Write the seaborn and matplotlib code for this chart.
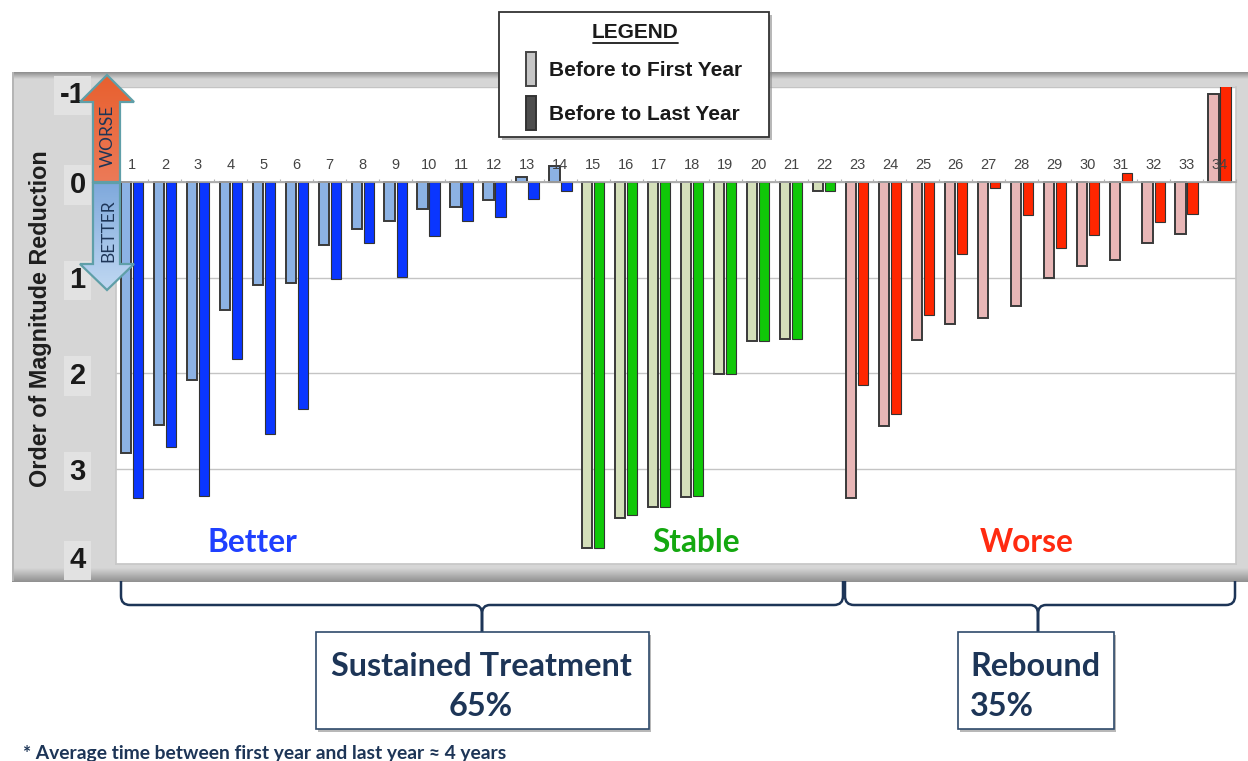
import numpy as np
import pandas as pd
import matplotlib
matplotlib.use("Agg")
import matplotlib.pyplot as plt
import seaborn as sns
from matplotlib.patches import Rectangle, Polygon, PathPatch
from matplotlib.path import Path
from matplotlib.transforms import ScaledTranslation

# values (positive = reduction, drawn downwards)
patients = [str(i) for i in range(1, 35)]
first_year = [2.84, 2.54, 2.07, 1.34, 1.08, 1.06, 0.66, 0.49, 0.41, 0.28, 0.26, 0.19,
              -0.05, -0.17, 3.83, 3.52, 3.40, 3.30, 2.01, 1.66, 1.64, 0.09,
              3.31, 2.55, 1.65, 1.49, 1.42, 1.30, 1.00, 0.88, 0.82, 0.64, 0.54, -0.92]
last_year = [3.31, 2.78, 3.29, 1.85, 2.64, 2.38, 1.02, 0.64, 0.99, 0.57, 0.41, 0.37,
             0.18, 0.09, 3.83, 3.49, 3.40, 3.29, 2.01, 1.66, 1.64, 0.09,
             2.13, 2.43, 1.39, 0.75, 0.06, 0.35, 0.69, 0.56, -0.09, 0.42, 0.33, -1.05]
groups = ["Better"] * 14 + ["Stable"] * 8 + ["Worse"] * 12
y_ticks = [-1, 0, 1, 2, 3, 4]

first_colors = {"Better": "#8cb2e4", "Stable": "#d4dfba", "Worse": "#e8b6b6"}
last_colors = {"Better": "#0a36ff", "Stable": "#10c808", "Worse": "#ff2600"}
NAVY = "#1d3557"
SANS = "Liberation Sans"
CALIBRI = "Lato"


def px_axes(fig, zorder):
    """transparent axes covering the figure, in image pixels"""
    a = fig.add_axes([0, 0, 1, 1], zorder=zorder)
    a.set_xlim(0, 1248)
    a.set_ylim(761, 0)
    a.axis("off")
    return a


def vgrad(top, bottom):
    c0 = np.array(matplotlib.colors.to_rgb(top))
    c1 = np.array(matplotlib.colors.to_rgb(bottom))
    t = np.linspace(0, 1, 64)[:, None, None]
    return c0[None, None, :] * (1 - t) + c1[None, None, :] * t


def gradient_poly(a, pts, top, bottom):
    poly = Polygon(pts, closed=True, fc="none", ec="#5f9fa8", lw=1.6, zorder=4)
    a.add_patch(poly)
    xs = [p[0] for p in pts]
    ys = [p[1] for p in pts]
    im = a.imshow(vgrad(top, bottom), extent=[min(xs), max(xs), max(ys), min(ys)], aspect="auto", zorder=3)
    im.set_clip_path(poly)
    a.set_xlim(0, 1248)
    a.set_ylim(761, 0)


def bracket(a, x0, x1, xm):
    r = 9
    top, mid, low = 581, 605, 632
    verts = [(x0, top), (x0, mid - r), (x0, mid), (x0 + r, mid), (xm - 8, mid), (xm, mid), (xm, mid + 9),
             (xm, low), (xm, mid + 9), (xm, mid), (xm + 8, mid), (x1 - r, mid), (x1, mid), (x1, mid - r), (x1, top)]
    codes = [Path.MOVETO, Path.LINETO, Path.CURVE3, Path.CURVE3, Path.LINETO, Path.CURVE3, Path.CURVE3,
             Path.LINETO, Path.LINETO, Path.CURVE3, Path.CURVE3, Path.LINETO, Path.CURVE3, Path.CURVE3, Path.LINETO]
    a.add_patch(PathPatch(Path(verts, codes), fc="none", ec=NAVY, lw=1.8, zorder=2))


def text_box(a, x0, y0, x1, y1):
    a.add_patch(Rectangle((x0 + 2, y0 + 3), x1 - x0, y1 - y0, fc="#9a9a9a", ec="none", alpha=0.7, zorder=2))
    a.add_patch(Rectangle((x0, y0), x1 - x0, y1 - y0, fc="white", ec="#2f4a6b", lw=1.2, zorder=3))


def main():
    sns.set_theme(style="white")
    plt.rcParams["font.family"] = [SANS, "DejaVu Sans"]

    df = pd.DataFrame({
        "patient": patients * 2,
        "value": first_year + last_year,
        "period": ["first"] * 34 + ["last"] * 34,
    })

    fig = plt.figure(figsize=(12.48, 7.61), dpi=100, facecolor="white")

    # grey panel behind the plot
    bg = px_axes(fig, 0)
    bg.add_patch(Rectangle((12, 72), 1240, 509, fc="#d6d6d6", ec="none", zorder=1))
    bg.imshow(vgrad("#8c8c8c", "#d6d6d6"), extent=[12, 1252, 79, 72], aspect="auto", zorder=2)
    bg.imshow(vgrad("#d6d6d6", "#8f8f8f"), extent=[12, 1252, 582, 568], aspect="auto", zorder=2)
    bg.add_patch(Rectangle((12, 72), 2, 509, fc="#b5b5b5", ec="none", zorder=3))
    bg.set_xlim(0, 1248)
    bg.set_ylim(761, 0)

    # main chart
    ax = fig.add_axes([115.5 / 1248, 1 - 564 / 761, (1236 - 115.5) / 1248, (564 - 86.5) / 761], zorder=1)
    sns.barplot(data=df, x="patient", y="value", hue="period", hue_order=["first", "last"],
                width=0.73, gap=0.15, legend=False, ax=ax, errorbar=None)
    for bar, g in zip(ax.containers[0], groups):
        bar.set_facecolor(first_colors[g])
        bar.set_edgecolor("#3a3a3a")
        bar.set_linewidth(1.4)
    for bar, g in zip(ax.containers[1], groups):
        bar.set_facecolor(last_colors[g])
        bar.set_edgecolor("#333333")
        bar.set_linewidth(0.8)

    ax.set_xlim(-0.5, 33.5)
    ax.set_ylim(4, -1)
    ax.set_facecolor("white")
    ax.set_axisbelow(True)
    ax.xaxis.set_zorder(5)  # numbers stay readable over the bars
    ax.yaxis.grid(True, color="#c4c4c4", lw=1)
    ax.xaxis.grid(False)

    ax.xaxis.tick_top()
    ax.spines["top"].set_position(("data", 0))
    ax.spines["top"].set_color("#a8a8a8")
    for s in ["left", "right", "bottom"]:
        ax.spines[s].set_color("#c8c8c8")
    ax.set_xticks(np.arange(34))
    ax.set_xticklabels(patients, fontsize=10.5, color="#444444")
    ax.set_xticks(np.arange(-0.5, 33.6, 1), minor=True)
    ax.tick_params(axis="x", which="major", length=0, pad=7.2)
    ax.tick_params(axis="x", which="minor", length=2.5, color="#b0b0b0", width=0.8)
    ax.set_xlabel("")

    ax.set_yticks(y_ticks)
    ax.set_yticklabels([str(v) for v in y_ticks], fontsize=21, fontweight="bold", color="#1a1a1a")
    ax.tick_params(axis="y", length=0, pad=21.5)
    for lab, v in zip(ax.get_yticklabels(), y_ticks):
        lab.set_bbox(dict(fc="#e2e2e2", ec="none", pad=4))
        if v == 4:
            lab.set_transform(lab.get_transform() + ScaledTranslation(0, 5 / 72, fig.dpi_scale_trans))
        if v == -1:
            lab.set_transform(lab.get_transform() + ScaledTranslation(0, -4 / 72, fig.dpi_scale_trans))
    ax.set_ylabel("")

    # everything that sits on top of the chart
    top = px_axes(fig, 2)
    top.text(41, 319, "Order of Magnitude Reduction", rotation=90, ha="center", va="center",
             fontsize=16.8, fontweight="bold", color="#1e1e1e")

    gradient_poly(top, [(107, 75), (134, 102), (120, 102), (120, 182), (93, 182), (93, 102), (80, 102)],
                  "#e8602f", "#ec7a58")
    gradient_poly(top, [(93, 183), (120, 183), (120, 264), (134, 264), (107, 290), (80, 264), (93, 264)],
                  "#7fa9dc", "#c0d8f2")
    top.text(108, 136, "WORSE", rotation=90, ha="center", va="center", fontsize=12.5,
             family=CALIBRI, color=NAVY, zorder=5)
    top.text(108, 231, "BETTER", rotation=90, ha="center", va="center", fontsize=12.5,
             family=CALIBRI, color=NAVY, zorder=5)

    # group names
    for x, name, col in [(252, "Better", "#1f40ff"), (696, "Stable", "#14a810"), (1027, "Worse", "#ff2a10")]:
        top.text(x, 543, name, ha="center", va="center", fontsize=22.8, fontweight="bold",
                 family=CALIBRI, color=col)

    # hand drawn legend box
    top.add_patch(Rectangle((502, 15), 270, 125, fc="#8a8a8a", ec="none", alpha=0.6, zorder=2))
    top.add_patch(Rectangle((499, 12), 270, 125, fc="white", ec="#333333", lw=1.3, zorder=3))
    top.text(635, 33, "LEGEND", ha="center", va="center", fontsize=15, fontweight="bold",
             color="#1a1a1a", zorder=4)
    top.plot([593, 678], [43, 43], color="#1a1a1a", lw=1.3, zorder=4)
    top.add_patch(Rectangle((526, 52), 10, 34, fc="#c6c6c6", ec="#444444", lw=1.4, zorder=4))
    top.add_patch(Rectangle((526, 96), 10, 34, fc="#4d4d4d", ec="#333333", lw=1.4, zorder=4))
    top.text(549, 70, "Before to First Year", va="center", fontsize=15, fontweight="bold",
             color="#1a1a1a", zorder=4)
    top.text(549, 115, "Before to Last Year", va="center", fontsize=15, fontweight="bold",
             color="#1a1a1a", zorder=4)

    # brackets and the two call-outs
    bracket(top, 121, 843, 482)
    bracket(top, 845, 1235, 1038)
    text_box(top, 316, 632, 649, 729)
    text_box(top, 958, 632, 1114, 729)
    top.text(481, 666, "Sustained Treatment", ha="center", va="center", fontsize=23.3, fontweight="bold",
             family=CALIBRI, color=NAVY, zorder=4)
    top.text(481, 707, "65%", ha="center", va="center", fontsize=23.3, fontweight="bold",
             family=CALIBRI, color=NAVY, zorder=4)
    top.text(970, 666, "Rebound", ha="left", va="center", fontsize=23.3, fontweight="bold",
             family=CALIBRI, color=NAVY, zorder=4)
    top.text(970, 707, "35%", ha="left", va="center", fontsize=23.3, fontweight="bold",
             family=CALIBRI, color=NAVY, zorder=4)
    top.text(23, 753, "* Average time between first year and last year \u2248 4 years", va="center",
             fontsize=13.9, fontweight="bold", family=CALIBRI, color=NAVY, zorder=4)

    fig.savefig("out.png", dpi=100)


if __name__ == "__main__":
    main()
